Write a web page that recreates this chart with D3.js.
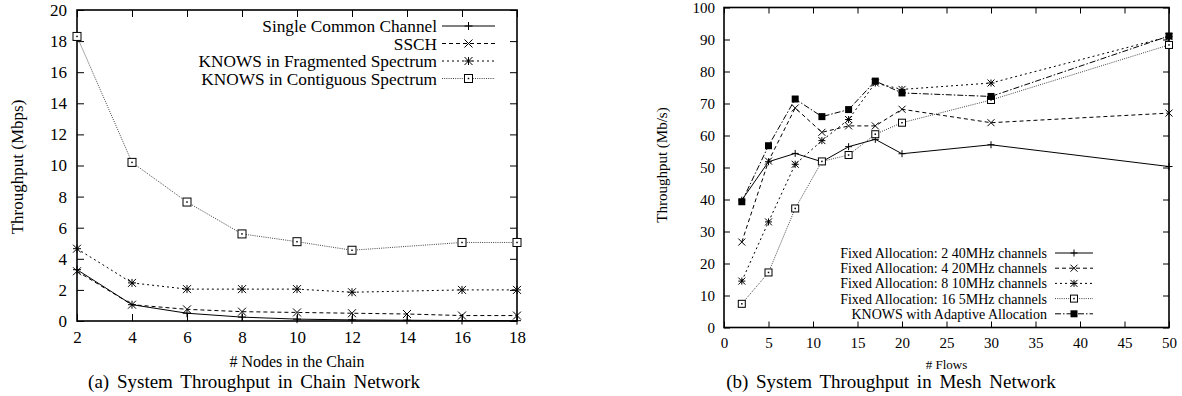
<!DOCTYPE html>
<html>
<head>
<meta charset="utf-8">
<title>System Throughput</title>
<style>
  body { margin: 0; background: #fff; }
  svg text { font-family: "Liberation Serif", "Times New Roman", serif; fill: #000; }
  .axis path, .axis line { stroke: #000; }
</style>
</head>
<body>
<svg width="1182" height="396"></svg>
<script src="https://d3js.org/d3.v7.min.js"></script>
<script>
// ---- chart (a): chain network ----
var chainNodes = [2, 4, 6, 8, 10, 12, 14, 16, 18];
var chainSingle = [3.3, 1.05, 0.5, 0.25, 0.12, 0.07, 0.05, 0.03, 0.02];
var chainSSCH = [3.2, 1.05, 0.75, 0.6, 0.55, 0.5, 0.45, 0.35, 0.35];
var chainFrag = [4.65, 2.45, 2.05, 2.05, 2.05, 1.85, null, 2.0, 2.0];
var chainContig = [18.3, 10.2, 7.65, 5.6, 5.1, 4.55, null, 5.05, 5.05];
var chainSeriesNames = ["Single Common Channel", "SSCH", "KNOWS in Fragmented Spectrum", "KNOWS in Contiguous Spectrum"];
var chainXTicks = [2, 4, 6, 8, 10, 12, 14, 16, 18];
var chainYTicks = [0, 2, 4, 6, 8, 10, 12, 14, 16, 18, 20];

// ---- chart (b): mesh network ----
var meshFlows = [2, 5, 8, 11, 14, 17, 20, 30, 50];
var mesh2x40 = [39.8, 51.8, 54.4, 51.8, 56.5, 58.8, 54.3, 57.1, 50.3];
var mesh4x20 = [26.7, 52.0, 68.6, 61.0, 63.0, 63.0, 68.2, 64.0, 67.0];
var mesh8x10 = [14.5, 33.0, 51.0, 58.4, 65.0, 76.4, 74.4, 76.4, 90.9];
var mesh16x5 = [7.4, 17.2, 37.2, 51.9, 53.9, 60.4, 64.0, 71.1, 88.3];
var meshKnows = [39.3, 56.8, 71.4, 65.9, 68.1, 77.0, 73.3, 72.2, 91.1];
var meshSeriesNames = ["Fixed Allocation: 2 40MHz channels", "Fixed Allocation: 4 20MHz channels",
  "Fixed Allocation: 8 10MHz channels", "Fixed Allocation: 16 5MHz channels", "KNOWS with Adaptive Allocation"];
var meshXTicks = [0, 5, 10, 15, 20, 25, 30, 35, 40, 45, 50];
var meshYTicks = [0, 10, 20, 30, 40, 50, 60, 70, 80, 90, 100];

// line styles (gnuplot-like)
var styles = {
  solid:   { dash: null,      stroke: "#000", marker: "plus" },
  dashed:  { dash: "4,3",     stroke: "#000", marker: "cross" },
  short:   { dash: "2,3",     stroke: "#000", marker: "star" },
  dotted:  { dash: "1,1.2",   stroke: "#444", marker: "box" },
  dashdot: { dash: "6,2,1.5,2", stroke: "#000", marker: "fbox" }
};

var serif = '"Liberation Serif", "Times New Roman", serif';
var svg = d3.select("svg");

function marker(g, type, x, y, s) {
  var h = s / 2, p;
  if (type === "plus") {
    p = "M" + (x - h) + "," + y + "H" + (x + h) + "M" + x + "," + (y - h) + "V" + (y + h);
  } else if (type === "cross") {
    p = "M" + (x - h) + "," + (y - h) + "L" + (x + h) + "," + (y + h) + "M" + (x - h) + "," + (y + h) + "L" + (x + h) + "," + (y - h);
  } else if (type === "star") {
    p = "M" + (x - h) + "," + y + "H" + (x + h) + "M" + x + "," + (y - h) + "V" + (y + h) +
        "M" + (x - h) + "," + (y - h) + "L" + (x + h) + "," + (y + h) + "M" + (x - h) + "," + (y + h) + "L" + (x + h) + "," + (y - h);
  }
  if (p) {
    g.append("path").attr("d", p).attr("stroke", "#000").attr("stroke-width", 1).attr("fill", "none");
  } else if (type === "box") {
    g.append("rect").attr("x", x - h).attr("y", y - h).attr("width", s).attr("height", s)
      .attr("fill", "#fff").attr("stroke", "#000").attr("stroke-width", 1);
    g.append("rect").attr("x", x - 0.75).attr("y", y - 0.75).attr("width", 1.5).attr("height", 1.5).attr("fill", "#000");
  } else if (type === "fbox") {
    g.append("rect").attr("x", x - h).attr("y", y - h).attr("width", s).attr("height", s).attr("fill", "#000");
  }
}

function panel(o) {
  var x = d3.scaleLinear().domain(o.xDomain).range([o.left, o.right]);
  var y = d3.scaleLinear().domain(o.yDomain).range([o.bottom, o.top]);
  var g = svg.append("g");

  var ax = [
    d3.axisBottom(x).tickValues(o.xTicks).tickFormat(d3.format("d")).tickSizeInner(-o.tick).tickSizeOuter(0).tickPadding(o.padX),
    d3.axisLeft(y).tickValues(o.yTicks).tickFormat(d3.format("d")).tickSizeInner(-o.tick).tickSizeOuter(0).tickPadding(o.padY),
    d3.axisTop(x).tickValues(o.xTicks).tickFormat("").tickSizeInner(-o.tick).tickSizeOuter(0),
    d3.axisRight(y).tickValues(o.yTicks).tickFormat("").tickSizeInner(-o.tick).tickSizeOuter(0)
  ];
  var pos = ["translate(0," + o.bottom + ")", "translate(" + o.left + ",0)",
             "translate(0," + o.top + ")", "translate(" + o.right + ",0)"];
  ax.forEach(function(a, i) {
    var ga = g.append("g").attr("class", "axis").attr("transform", pos[i]).call(a);
    ga.select(".domain").remove();
    ga.attr("font-family", null);
    ga.selectAll("text").style("font-size", o.tickFont + "px").style("font-family", serif);
    ga.selectAll("line").attr("stroke-width", 1);
  });
  g.append("rect").attr("x", o.left).attr("y", o.top)
    .attr("width", o.right - o.left).attr("height", o.bottom - o.top)
    .attr("fill", "none").attr("stroke", "#000").attr("stroke-width", 1.6);

  var line = d3.line().x(function(d) { return x(d[0]); }).y(function(d) { return y(d[1]); });

  o.series.forEach(function(s) {
    var st = styles[s.style];
    var pts = o.xs.map(function(v, i) { return [v, s.values[i]]; })
      .filter(function(d) { return d[1] !== null; });
    g.append("path").datum(pts).attr("d", line).attr("fill", "none")
      .attr("stroke", st.stroke).attr("stroke-width", 1)
      .attr("stroke-dasharray", st.dash);
    pts.forEach(function(d) { marker(g, st.marker, x(d[0]), y(d[1]), o.mark); });
  });

  // legend
  o.series.forEach(function(s, i) {
    var st = styles[s.style];
    var ly = o.legY + i * o.legStep;
    var lx = o.legX + o.legGap;
    g.append("text").attr("x", o.legX).attr("y", ly).attr("dy", "0.35em")
      .attr("text-anchor", "end").style("font-size", o.legFont + "px").style("font-family", serif).text(s.name);
    g.append("line").attr("x1", lx).attr("x2", lx + o.legLen)
      .attr("y1", ly).attr("y2", ly).attr("stroke", st.stroke).attr("stroke-width", 1)
      .attr("stroke-dasharray", st.dash);
    marker(g, st.marker, lx + o.legLen / 2, ly, o.mark);
  });

  g.append("text").attr("x", (o.left + o.right) / 2).attr("y", o.xLabelY)
    .attr("text-anchor", "middle").style("font-size", o.labelFont + "px").style("font-family", serif).text(o.xLabel);
  g.append("text").attr("transform", "translate(" + o.yLabelX + "," + o.yLabelY + ") rotate(-90)")
    .attr("text-anchor", "middle").attr("dy", "0.35em").style("font-size", o.yLabelFont + "px")
    .style("font-family", serif).text(o.yLabel);
  g.append("text").attr("x", o.capX).attr("y", 388)
    .attr("text-anchor", "middle").style("font-size", "19px").style("font-family", serif)
    .style("word-spacing", "3px").text(o.caption);
}

panel({
  left: 77, right: 517, top: 10, bottom: 321,
  xDomain: [2, 18], yDomain: [0, 20], xTicks: chainXTicks, yTicks: chainYTicks,
  tick: 7, padX: 10, padY: 10, tickFont: 17, mark: 8,
  xs: chainNodes,
  series: [
    { name: chainSeriesNames[0], values: chainSingle, style: "solid" },
    { name: chainSeriesNames[1], values: chainSSCH, style: "dashed" },
    { name: chainSeriesNames[2], values: chainFrag, style: "short" },
    { name: chainSeriesNames[3], values: chainContig, style: "dotted" }
  ],
  legX: 437, legY: 26, legStep: 17.5, legFont: 17.3, legGap: 5, legLen: 53,
  xLabel: "# Nodes in the Chain", xLabelY: 367, labelFont: 16,
  yLabel: "Throughput (Mbps)", yLabelX: 17, yLabelY: 167, yLabelFont: 17,
  caption: "(a) System Throughput in Chain Network", capX: 254
});

panel({
  left: 724, right: 1169, top: 7.5, bottom: 327.5,
  xDomain: [0, 50], yDomain: [0, 100], xTicks: meshXTicks, yTicks: meshYTicks,
  tick: 6, padX: 10, padY: 9, tickFont: 15, mark: 7,
  xs: meshFlows,
  series: [
    { name: meshSeriesNames[0], values: mesh2x40, style: "solid" },
    { name: meshSeriesNames[1], values: mesh4x20, style: "dashed" },
    { name: meshSeriesNames[2], values: mesh8x10, style: "short" },
    { name: meshSeriesNames[3], values: mesh16x5, style: "dotted" },
    { name: meshSeriesNames[4], values: meshKnows, style: "dashdot" }
  ],
  legX: 1047, legY: 253, legStep: 15.2, legFont: 14, legGap: 8, legLen: 38,
  xLabel: "# Flows", xLabelY: 369, labelFont: 13,
  yLabel: "Throughput (Mb/s)", yLabelX: 662, yLabelY: 165, yLabelFont: 15,
  caption: "(b) System Throughput in Mesh Network", capX: 891
});
</script>
</body>
</html>
